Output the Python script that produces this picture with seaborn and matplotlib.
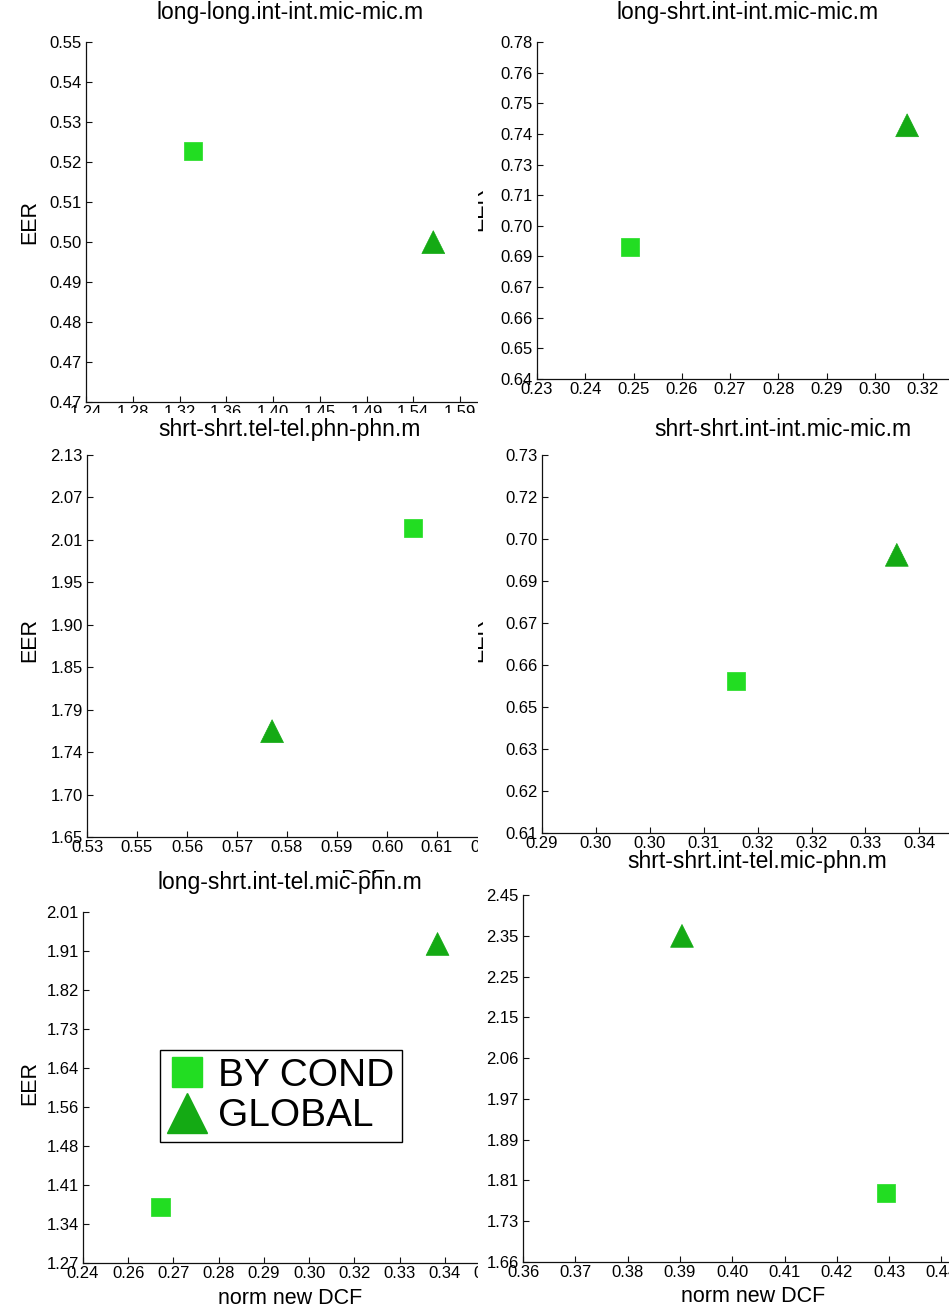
import numpy as np
import pandas as pd
import matplotlib
matplotlib.use("Agg")
import matplotlib.pyplot as plt
import seaborn as sns
from matplotlib.patches import Rectangle
from matplotlib.lines import Line2D

sns.set_style("ticks")
plt.rcParams["font.family"] = ["Liberation Sans", "DejaVu Sans"]
plt.rcParams["text.color"] = "black"
plt.rcParams["axes.labelcolor"] = "black"
plt.rcParams["xtick.color"] = "black"
plt.rcParams["ytick.color"] = "black"

# ---------------- data ----------------
titles = ["long-long.int-int.mic-mic.m", "long-shrt.int-int.mic-mic.m",
          "shrt-shrt.tel-tel.phn-phn.m", "shrt-shrt.int-int.mic-mic.m",
          "long-shrt.int-tel.mic-phn.m", "shrt-shrt.int-tel.mic-phn.m"]
methods = ["BY COND", "GLOBAL"]

dcf_by_cond = [1.340, 0.2517, 0.6043, 0.3157, 0.2614, 0.4294]
eer_by_cond = [0.5246, 0.6949, 2.038, 0.6583, 1.388, 1.808]
dcf_global = [1.565, 0.3163, 0.5722, 0.337, 0.338, 0.3904]
eer_global = [0.5033, 0.7454, 1.783, 0.6983, 1.9426, 2.362]

xtick_labels = [
    ["1.24", "1.28", "1.32", "1.36", "1.40", "1.45", "1.49", "1.54", "1.59"],
    ["0.23", "0.24", "0.25", "0.26", "0.27", "0.28", "0.29", "0.30", "0.32"],
    ["0.53", "0.55", "0.56", "0.57", "0.58", "0.59", "0.60", "0.61", "0.62"],
    ["0.29", "0.30", "0.30", "0.31", "0.32", "0.32", "0.33", "0.34"],
    ["0.24", "0.26", "0.27", "0.28", "0.29", "0.30", "0.32", "0.33", "0.34", "0.35"],
    ["0.36", "0.37", "0.38", "0.39", "0.40", "0.41", "0.42", "0.43", "0.44"],
]
ytick_labels = [
    ["0.47", "0.47", "0.48", "0.49", "0.50", "0.51", "0.52", "0.53", "0.54", "0.55"],
    ["0.64", "0.65", "0.66", "0.67", "0.69", "0.70", "0.71", "0.73", "0.74", "0.75",
     "0.76", "0.78"],
    ["1.65", "1.70", "1.74", "1.79", "1.85", "1.90", "1.95", "2.01", "2.07", "2.13"],
    ["0.61", "0.62", "0.63", "0.65", "0.66", "0.67", "0.69", "0.70", "0.72", "0.73"],
    ["1.27", "1.34", "1.41", "1.48", "1.56", "1.64", "1.73", "1.82", "1.91", "2.01"],
    ["1.66", "1.73", "1.81", "1.89", "1.97", "2.06", "2.15", "2.25", "2.35", "2.45"],
]
# axis scales: first tick value and tick step
x_first = [1.24, 0.23, 0.53, 0.29, 0.24, 0.36]
x_step = [0.04375, 0.01125, 0.0114, 0.00714, 0.0125, 0.01]
y_lo = [0.466, 0.64, 1.65, 0.61, 1.27, 1.66]
y_hi = [0.55, 0.78, 2.13, 0.73, 2.01, 2.45]

# ---------------- layout (pixels) ----------------
W, H = 949, 1308
boxes = [(86, 42, 478, 402), (537, 42, 960, 379),
         (87, 455, 500, 837), (542, 455, 960, 833),
         (83, 912, 490, 1263), (523, 895, 960, 1262)]
regions = [(0, 0, 478, 413), (478, 0, 949, 413),
           (0, 413, 478, 873), (478, 413, 949, 858),
           (0, 873, 478, 1308), (478, 858, 949, 1308)]
tick_spacing_px = [46.75, 48.25, 50.0, 53.9, 46.2, 52.3]
title_pos = [(290, 13), (748, 13), (290, 430), (783, 430), (290, 882), (757, 862)]

SQ_COLOR = "#22dd22"
TR_COLOR = "#14aa14"
palette = {"BY COND": SQ_COLOR, "GLOBAL": TR_COLOR}
markers = {"BY COND": "s", "GLOBAL": "^"}
sizes = {"BY COND": 175, "GLOBAL": 270}

fig = plt.figure(figsize=(W / 100, H / 100), dpi=100)
fig.patch.set_facecolor("white")


def to_ax(box, px, py):
    x0, yt, x1, yb = box
    return (px - x0) / (x1 - x0), (yb - py) / (yb - yt)


def region_rect(r):
    rx0, ry0, rx1, ry1 = r
    return Rectangle((rx0 / W, 1 - ry1 / H), (rx1 - rx0) / W, (ry1 - ry0) / H,
                     transform=fig.transFigure, facecolor="white", edgecolor="none")


axes = []
for i in range(6):
    x0, yt, x1, yb = boxes[i]
    patch = region_rect(regions[i])
    patch.set_zorder(2 * i + 0.5)
    fig.add_artist(patch)
    ax = fig.add_axes([x0 / W, 1 - yb / H, (x1 - x0) / W, (yb - yt) / H], zorder=2 * i + 1)
    axes.append(ax)

    df = pd.DataFrame({
        "dcf": [dcf_by_cond[i], dcf_global[i]],
        "eer": [eer_by_cond[i], eer_global[i]],
        "method": methods,
    })
    sns.scatterplot(data=df, x="dcf", y="eer", hue="method", style="method",
                    size="method", palette=palette, markers=markers, sizes=sizes,
                    edgecolor="face", linewidth=0.5, legend=False, ax=ax, zorder=3)

    nx = len(xtick_labels[i])
    xt = x_first[i] + x_step[i] * np.arange(nx)
    xmax = x_first[i] + (x1 - x0) / tick_spacing_px[i] * x_step[i]
    ax.set_xlim(x_first[i], xmax)
    ax.set_xticks(xt)
    ax.set_xticklabels(xtick_labels[i])
    ny = len(ytick_labels[i])
    ax.set_ylim(y_lo[i], y_hi[i])
    ax.set_yticks(np.linspace(y_lo[i], y_hi[i], ny))
    ax.set_yticklabels(ytick_labels[i])
    ax.set_xlabel("")
    ax.set_ylabel("")
    for s in ("top", "right"):
        ax.spines[s].set_visible(False)
    for s in ("left", "bottom"):
        ax.spines[s].set_linewidth(0.9)
        ax.spines[s].set_color("#111111")
    ax.tick_params(axis="both", direction="in", length=4, width=0.8,
                   labelsize=12, colors="#111111", labelcolor="black")
    ax.tick_params(axis="x", pad=2)
    ax.tick_params(axis="y", pad=3)

    tx, ty = to_ax(boxes[i], *title_pos[i])
    ax.text(tx, ty, titles[i], transform=ax.transAxes, ha="center", va="center",
            fontsize=16.5, color="black", clip_on=False)

# y labels on the left column
for i, py in zip([0, 2, 4], [222, 640, 1083]):
    tx, ty = to_ax(boxes[i], 30, py)
    axes[i].text(tx, ty, "EER", transform=axes[i].transAxes, rotation=90,
                 ha="center", va="center", fontsize=15.5, color="black", clip_on=False)

# y labels of the right column, mostly hidden by the panel crop
for i, py in zip([1, 3], [209, 640]):
    tx, ty = to_ax(boxes[i], 477, py)
    t = axes[i].text(tx, ty, "EER", transform=axes[i].transAxes, rotation=90,
                     ha="center", va="center", fontsize=15.5, color="black")
    t.set_clip_on(True)
    t.set_clip_path(region_rect(regions[i]))

# x label of the middle-left panel, mostly hidden by the panel below
tx, ty = to_ax(boxes[2], 313, 869)
axes[2].text(tx, ty, "norm new DCF", transform=axes[2].transAxes,
             ha="center", va="top", fontsize=15.5, color="black", clip_on=False)

# x labels on the bottom row
for i, (px, py) in zip([4, 5], [(290, 1298), (753, 1297)]):
    tx, ty = to_ax(boxes[i], px, py)
    axes[i].text(tx, ty, "norm new DCF", transform=axes[i].transAxes,
                 ha="center", va="center", fontsize=15.5, color="black", clip_on=False)

# legend in the bottom-left panel
handles = [Line2D([], [], linestyle="none", marker="s", markersize=22,
                  markerfacecolor=SQ_COLOR, markeredgecolor=SQ_COLOR),
           Line2D([], [], linestyle="none", marker="^", markersize=29,
                  markerfacecolor=TR_COLOR, markeredgecolor=TR_COLOR)]
leg = axes[4].legend(handles, methods, loc="upper left",
                     bbox_to_anchor=(160 / W, 1 - 1050 / H), bbox_transform=fig.transFigure,
                     borderaxespad=0, fontsize=28, frameon=True, fancybox=False,
                     framealpha=1, edgecolor="black", borderpad=0.2,
                     labelspacing=0.12, handletextpad=0.3, handlelength=1.0)
leg.get_frame().set_linewidth(1.0)
for t in leg.get_texts():
    t.set_color("black")

fig.savefig("out.png", dpi=100, facecolor="white")
